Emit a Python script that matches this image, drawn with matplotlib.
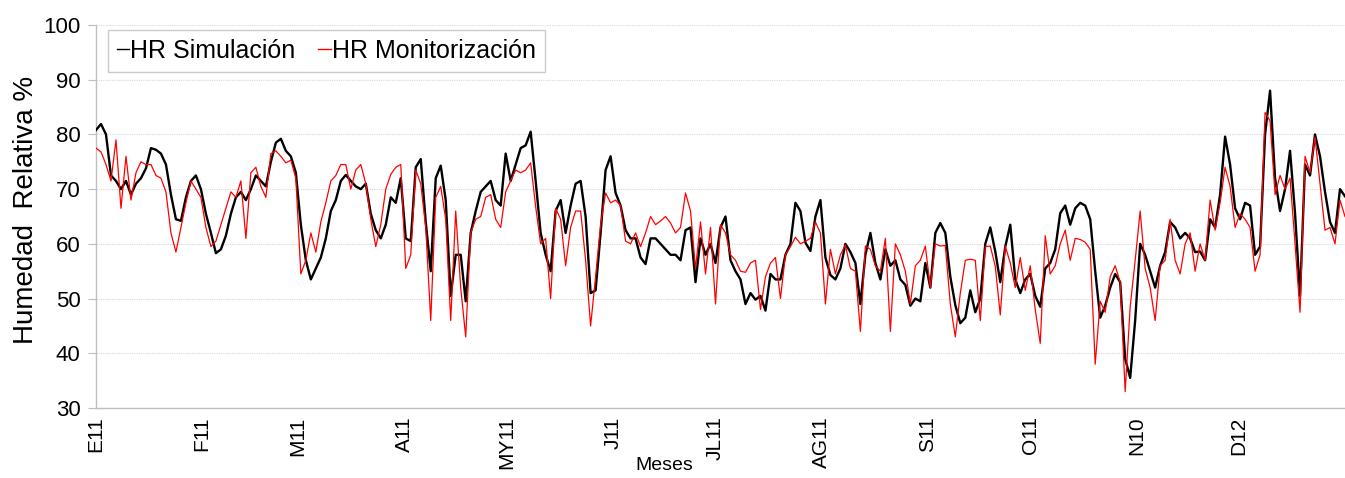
import numpy as np
import matplotlib
matplotlib.use("Agg")
import matplotlib.pyplot as plt

plt.rcParams['font.family'] = ['Liberation Sans Narrow', 'Liberation Sans', 'DejaVu Sans']

# Month labels and month-start day numbers
months = ["E11", "F11", "M11", "A11", "MY11", "J11", "JL11", "AG11", "S11", "O11", "N10", "D12"]
month_start = [0, 31, 59, 90, 120, 151, 181, 212, 243, 273, 304, 334]

# HR values (one reading roughly every 1.5 days)
hr_sim = [
    80.8, 81.9, 80, 72.5, 71.5, 70, 71.5, 69, 71, 72, 73.8, 77.5, 77.2, 76.5, 74.5, 69, 64.5, 64.2, 68.5, 71.5,
    72.5, 70, 65.5, 62, 58.3, 59, 61.5, 65.5, 68.5, 69.5, 68, 70, 72.5, 71.5, 70.5, 75, 78.5, 79.2, 77, 76, 73,
    63.5, 57, 53.5, 55.5, 57.5, 61, 66, 68, 71.5, 72.6, 71.5, 70.5, 70, 71, 65.5, 62.5, 61, 63.5, 68.5, 67.5,
    72, 61, 60.5, 74, 75.5, 64, 55, 72, 74.3, 68, 50.5, 58, 58, 49.5, 62, 66, 69.5, 70.5, 71.5, 68,
    67, 76.5, 71.5, 74.5, 77.5, 78, 80.5, 71.5, 62, 58, 55, 66, 68, 62, 67, 71, 71.5, 65, 51, 51.5,
    62, 73.5, 76, 69.3, 67, 62.5, 61, 61, 57.5, 56.3, 61, 61, 60, 59, 58, 58, 57, 62.5, 63, 53,
    61, 58, 60, 56.5, 63, 65, 57, 55, 53.5, 49, 51, 49.8, 50.5, 47.8, 54.5, 53.5, 53.5, 58, 60, 67.5,
    66, 60.2, 58.7, 65, 68, 57.5, 54.3, 53.5, 55.5, 60, 58.5, 56.5, 49, 58, 62, 56.5, 53.5, 59, 56, 57,
    53.5, 52.5, 48.7, 50, 49.5, 56.5, 52, 62, 63.8, 62, 54, 48.8, 45.5, 46.5, 51.5, 47.5, 50, 60, 63, 58.6,
    53, 59.5, 63.5, 53.5, 51, 53.5, 54.5, 50.5, 48.5, 55.5, 56.5, 59, 65.6, 67, 63.5, 66.5, 67.5, 67, 64.5, 55,
    46.5, 48.7, 52, 54.5, 53, 39, 35.5, 46, 60, 58, 55, 52, 56, 58.5, 64, 63, 61, 62, 61, 58.5,
    58.6, 57, 64.5, 63, 69, 79.6, 74.5, 66.5, 64.5, 67.5, 67, 58, 59.5, 80, 88, 72, 66, 70, 77, 65.6,
    50.5, 74.5, 72.5, 80, 76, 69.5, 64, 62, 70, 68.7,
]
hr_mon = [
    77.5, 76.8, 74.5, 71.5, 79, 66.5, 76, 68, 73, 75, 74.5, 74.5, 72.5, 72, 69.5, 62, 58.5, 63, 67.5, 71.5,
    70, 68.5, 63, 59.5, 60.5, 63.5, 66.5, 69.5, 68.5, 71.5, 61, 73, 74, 70.5, 68.5, 76.5, 77, 76, 74.8, 75.3, 72,
    54.5, 57, 62, 58.5, 64, 67.5, 71.5, 72.5, 74.5, 74.5, 70, 73.5, 74.5, 71, 64.5, 59.5, 63.5, 70, 72.7, 74,
    74.5, 55.5, 58, 73.5, 71, 63, 46, 68.5, 70.5, 64.5, 46, 66, 52, 43, 62, 64.5, 65, 68.5, 69, 64.5,
    63, 69.5, 71.5, 73.5, 73, 73.5, 74.8, 66.8, 60, 61, 50, 66.5, 64.5, 56, 63, 66, 66, 57, 45, 54,
    63.5, 69.3, 67.5, 68, 67, 60.5, 60, 62, 59.5, 62, 65, 63.5, 64.2, 65, 63.8, 62, 63, 69.3, 66, 55.5,
    64, 54.5, 63, 49, 63.5, 62, 58, 57, 55, 54.8, 56.5, 57, 48, 54, 56.5, 57.5, 50, 58, 59.5, 61.2,
    60, 60.5, 61, 64, 62, 49, 59, 54.5, 58, 59.8, 55.5, 55, 44, 59.6, 59, 56, 55, 61, 44, 60,
    58, 55, 49, 56, 57, 59.6, 52, 60, 59.6, 59.7, 49, 43, 51, 57, 57.2, 57, 46, 59.5, 59.6, 55.9,
    47, 59.6, 56.5, 52, 57.5, 51.5, 56, 48, 41.8, 61.5, 54.5, 56, 60, 62.5, 57, 61, 60.8, 60.3, 59, 38,
    49.5, 47.5, 54, 56, 53, 33, 48.5, 57, 66, 55.5, 52, 46, 56, 57, 64.5, 57, 54.5, 60, 62, 55,
    60, 57, 68, 62.5, 67.5, 74, 70.5, 63, 65.5, 64.5, 63, 55, 58, 84, 82.5, 69, 72.5, 70, 72, 60,
    47.5, 76, 73, 79.5, 71, 62.5, 63, 60, 68, 65,
]

days = np.linspace(0, 365, len(hr_sim))

fig = plt.figure(figsize=(13.45, 4.78), dpi=100)
ax = fig.add_axes([96 / 1345, 1 - 408 / 478, 1249 / 1345, 383 / 478])

ax.plot(days, hr_sim, color="black", linewidth=1.7, label="HR Simulación", zorder=3)
ax.plot(days, hr_mon, color="#ff0000", linewidth=0.9, label="HR Monitorización", zorder=4)

ax.set_xlim(0, 365)
ax.set_ylim(30, 100)
ax.set_yticks(range(30, 101, 10))
ax.set_xticks(month_start)
ax.set_xticklabels(months, rotation=90, fontsize=15)
ax.tick_params(axis="x", length=0, pad=6)
ax.tick_params(axis="y", length=6, color="#bfbfbf", labelsize=16, pad=5)

ax.grid(axis="y", color="#d9d9d9", linewidth=0.8, linestyle=(0, (1, 1)))
ax.set_axisbelow(True)
for s in ["top", "right"]:
    ax.spines[s].set_visible(False)
for s in ["left", "bottom"]:
    ax.spines[s].set_color("#bfbfbf")
    ax.spines[s].set_linewidth(1.0)

ax.set_ylabel("Humedad  Relativa %", fontsize=20)
ax.yaxis.set_label_coords(-0.046, 0.517)

fig.text(664 / 1345, 1 - 466 / 478, "Meses", ha="center", va="center", fontsize=14)

leg = ax.legend(loc="upper left", bbox_to_anchor=(108 / 1345, 1 - 30 / 478),
                bbox_transform=fig.transFigure, borderaxespad=0, ncol=2,
                fontsize=18, handlelength=0.5, handletextpad=0.05, columnspacing=0.9,
                frameon=True, fancybox=False, borderpad=0.35)
leg.get_frame().set_edgecolor("#bfbfbf")
leg.get_frame().set_linewidth(1.0)
for h in leg.get_lines():
    h.set_linewidth(1.0)

fig.savefig("out.png", dpi=100)
